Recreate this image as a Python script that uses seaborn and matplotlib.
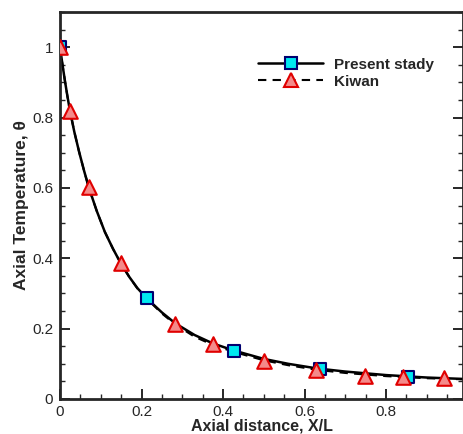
import numpy as np
import seaborn as sns
import matplotlib.pyplot as plt
from matplotlib.lines import Line2D
from matplotlib.ticker import MultipleLocator, FuncFormatter

# curve (present study, solid line)
present_x = [0.0, 0.006, 0.012, 0.018, 0.024, 0.035, 0.047, 0.059, 0.071, 0.09,
             0.11, 0.13, 0.149, 0.17, 0.19, 0.213, 0.25, 0.283, 0.33, 0.375,
             0.426, 0.5, 0.56, 0.63, 0.7, 0.8, 0.9, 0.99]
present_y = [1.0, 0.951, 0.905, 0.862, 0.822, 0.76, 0.702, 0.649, 0.60, 0.535,
             0.475, 0.427, 0.386, 0.347, 0.315, 0.286, 0.246, 0.215, 0.182, 0.158,
             0.138, 0.114, 0.100, 0.087, 0.078, 0.068, 0.061, 0.057]

# Kiwan, dashed line (slightly below the solid one further downstream)
kiwan_x = [0.0, 0.006, 0.012, 0.018, 0.024, 0.035, 0.047, 0.059, 0.071, 0.09,
           0.11, 0.13, 0.149, 0.17, 0.19, 0.213, 0.25, 0.283, 0.33, 0.375,
           0.426, 0.5, 0.56, 0.63, 0.7, 0.8, 0.9, 0.99]
kiwan_y = [1.0, 0.951, 0.905, 0.862, 0.822, 0.76, 0.702, 0.649, 0.60, 0.535,
           0.475, 0.427, 0.386, 0.347, 0.314, 0.285, 0.243, 0.212, 0.177, 0.154,
           0.134, 0.110, 0.096, 0.083, 0.074, 0.065, 0.059, 0.056]

# markers
present_mx = [0.0, 0.213, 0.426, 0.639, 0.853]
present_my = [1.0, 0.287, 0.137, 0.084, 0.063]
kiwan_mx = [0.0, 0.024, 0.071, 0.149, 0.283, 0.375, 0.5, 0.627, 0.749, 0.841, 0.942]
kiwan_my = [1.0, 0.82, 0.603, 0.387, 0.213, 0.156, 0.109, 0.082, 0.066, 0.062, 0.060]

sq_face, sq_edge = "#00e8f0", "#000070"
tri_face, tri_edge = "#f48a8a", "#e00000"

sns.set_style("ticks")
plt.rcParams["font.family"] = ["Liberation Sans", "DejaVu Sans"]

fig = plt.figure(figsize=(4.64, 4.34), dpi=100)
ax = fig.add_axes([60 / 464, 35 / 434, 403.5 / 464, 387 / 434])

sns.lineplot(x=present_x, y=present_y, color="black", linewidth=1.8,
             sort=False, estimator=None, ax=ax)
sns.lineplot(x=kiwan_x, y=kiwan_y, color="black", linewidth=1.5,
             linestyle=(0, (4, 3)), sort=False, estimator=None, ax=ax)
sns.scatterplot(x=present_mx, y=present_my, marker="s", s=70, color=sq_face,
                edgecolor=sq_edge, linewidth=1.5, zorder=4, ax=ax)
sns.scatterplot(x=kiwan_mx, y=kiwan_my, marker="^", s=110, color=tri_face,
                edgecolor=tri_edge, linewidth=1.5, zorder=5, ax=ax)

ax.set_xlim(0, 0.99)
ax.set_ylim(0, 1.1)
ax.xaxis.set_major_locator(MultipleLocator(0.2))
ax.xaxis.set_minor_locator(MultipleLocator(0.05))
ax.yaxis.set_major_locator(MultipleLocator(0.2))
ax.yaxis.set_minor_locator(MultipleLocator(0.05))
fmt = FuncFormatter(lambda v, p: "0" if abs(v) < 1e-9 else ("1" if abs(v - 1) < 1e-9 else f"{v:.1f}"))
ax.xaxis.set_major_formatter(fmt)
ax.yaxis.set_major_formatter(fmt)

ax.tick_params(which="both", direction="in", top=False, right=True,
               labelsize=11, width=1.4, pad=5)
ax.tick_params(axis="x", which="both", pad=4)
ax.tick_params(which="major", length=7)
ax.tick_params(which="minor", length=3.5, width=1.0)
for s in ax.spines.values():
    s.set_linewidth(2)

ax.set_xlabel("Axial distance, X/L", fontsize=11.5, fontweight="bold", labelpad=0)
ax.set_ylabel("Axial Temperature, θ", fontsize=12.5, fontweight="bold", labelpad=2)

handles = [
    Line2D([], [], color="black", lw=1.8, marker="s", ms=8,
           mfc=sq_face, mec=sq_edge, mew=1.5),
    Line2D([], [], color="black", lw=1.5, ls=(0, (4, 3)), marker="^", ms=10,
           mfc=tri_face, mec=tri_edge, mew=1.5),
]
ax.legend(handles, ["Present stady", "Kiwan"], loc="upper left",
          bbox_to_anchor=(0.49, 0.882), frameon=False, borderpad=0,
          borderaxespad=0, handlelength=4.3, handletextpad=0.7,
          labelspacing=0.2, prop={"weight": "bold", "size": 11})

fig.savefig("out.png", dpi=100)
